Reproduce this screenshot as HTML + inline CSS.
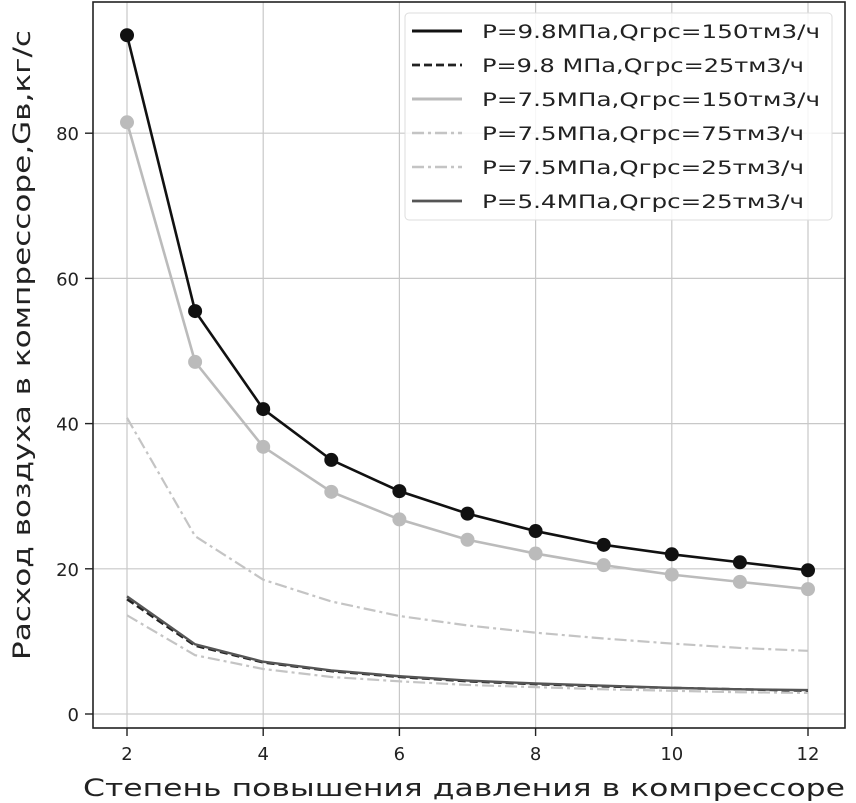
<!DOCTYPE html>
<html><head><meta charset="utf-8"><style>
html,body{margin:0;padding:0;background:#fff;}
svg{display:block;font-family:"DejaVu Sans","Liberation Sans",sans-serif;}
</style></head><body>
<svg id="chart" width="856" height="803" viewBox="0 0 856 803">
<g id="grid"></g>
<g id="series"></g>
<rect x="93" y="2" width="752" height="726" fill="none" stroke="#222" stroke-width="1.6"/>
<g id="axes"></g>
<text x="464" y="796" font-size="24" text-anchor="middle" fill="#222" textLength="762" lengthAdjust="spacingAndGlyphs">Степень повышения давления в компрессоре</text>
<text transform="translate(30,345) rotate(-90)" font-size="24" text-anchor="middle" fill="#222" textLength="630" lengthAdjust="spacingAndGlyphs">Расход воздуха в компрессоре,Gв,кг/с</text>
<g>
<rect x="405" y="13" width="427" height="207" rx="4" fill="#fff" fill-opacity="0.85" stroke="#ddd"/>
<g id="legend-items"></g>
</g>
</svg>
<script>
const xCategories=[2,3,4,5,6,7,8,9,10,11,12];
const s98_150=[93.5,55.5,42,35,30.7,27.6,25.2,23.3,22,20.9,19.8];
const s98_25=[15.8,9.4,7.1,5.9,5.1,4.5,4.1,3.8,3.6,3.4,3.2];
const s75_150=[81.5,48.5,36.8,30.6,26.8,24,22.1,20.5,19.2,18.2,17.2];
const s75_75=[40.8,24.5,18.5,15.5,13.5,12.2,11.2,10.4,9.7,9.1,8.7];
const s75_25=[13.6,8.1,6.2,5.1,4.5,4.0,3.7,3.4,3.2,3.0,2.9];
const s54_25=[16.2,9.6,7.2,6.0,5.2,4.6,4.2,3.9,3.6,3.4,3.3];
const xTicks=[2,4,6,8,10,12];
const yTicks=[0,20,40,60,80];
const seriesLabels=["P=9.8МПа,Qгрс=150тм3/ч","P=9.8 МПа,Qгрс=25тм3/ч","P=7.5МПа,Qгрс=150тм3/ч","P=7.5МПа,Qгрс=75тм3/ч","P=7.5МПа,Qгрс=25тм3/ч","P=5.4МПа,Qгрс=25тм3/ч"];
const labelLens=[338,322,338,322,322,322];

const NS="http://www.w3.org/2000/svg";
const X=v=>127+(v-2)*68.1;
const Y=v=>714-v*7.26;
function mk(tag,attrs,parent){const e=document.createElementNS(NS,tag);for(const k in attrs)e.setAttribute(k,attrs[k]);parent.appendChild(e);return e;}
const grid=document.getElementById('grid'),axes=document.getElementById('axes'),ser=document.getElementById('series'),leg=document.getElementById('legend-items');
xTicks.forEach(t=>{
  const l=mk('line',{x1:X(t),x2:X(t),y1:2,y2:728,stroke:'#c8c8c8','stroke-width':1.2},grid);
  
  
  mk('line',{x1:X(t),x2:X(t),y1:728,y2:736,stroke:'#222','stroke-width':1.4},axes);
  const tx=mk('text',{x:X(t),y:760,'font-size':18,'text-anchor':'middle',fill:'#222'},axes);
  tx.textContent=t;
  
  
});
yTicks.forEach(t=>{
  const l=mk('line',{x1:93,x2:845,y1:Y(t),y2:Y(t),stroke:'#c8c8c8','stroke-width':1.2},grid);
  
  
  mk('line',{x1:85,x2:93,y1:Y(t),y2:Y(t),stroke:'#222','stroke-width':1.4},axes);
  const tx=mk('text',{x:79,y:Y(t)+7,'font-size':18,'text-anchor':'end',fill:'#222'},axes);
  tx.textContent=t;
  
  
});
const styles=[
 {d:s98_150,c:'#111',w:2.6,dash:'',dots:true,name:'series-p98-q150'},
 {d:s98_25,c:'#222',w:2.4,dash:'8,4',dots:false,name:'series-p98-q25'},
 {d:s75_150,c:'#bbb',w:2.6,dash:'',dots:true,name:'series-p75-q150'},
 {d:s75_75,c:'#c4c4c4',w:2.2,dash:'12,4,3,4',dots:false,name:'series-p75-q75'},
 {d:s75_25,c:'#c4c4c4',w:2.2,dash:'12,4,3,4',dots:false,name:'series-p75-q25'},
 {d:s54_25,c:'#555',w:2.4,dash:'',dots:false,name:'series-p54-q25'}
];
styles.forEach((s,i)=>{
  const p=mk('polyline',{points:s.d.map((v,j)=>X(xCategories[j])+','+Y(v)).join(' '),fill:'none',stroke:s.c,'stroke-width':s.w,'stroke-dasharray':s.dash},ser);
  
  
  if(s.dots) s.d.forEach((v,j)=>{
    const c=mk('circle',{cx:X(xCategories[j]),cy:Y(v),r:7,fill:s.c},ser);
    
    
  });
  const ly=31+i*34;
  mk('line',{x1:412,x2:462,y1:ly,y2:ly,stroke:s.c,'stroke-width':s.w+0.4,'stroke-dasharray':s.dash},leg);
  const t=mk('text',{x:482,y:ly+7,'font-size':19,fill:'#222',textLength:labelLens[i],lengthAdjust:'spacingAndGlyphs'},leg);
  t.textContent=seriesLabels[i];
  
  
});
</script>
</body></html>
